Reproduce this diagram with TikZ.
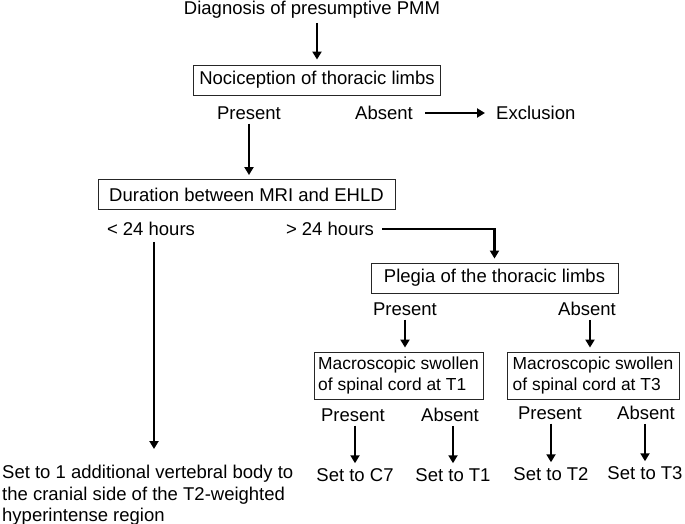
\documentclass[tikz,border=0pt]{standalone}
\usepackage{fontspec}
\setmainfont{Liberation Sans}
\usetikzlibrary{arrows.meta,positioning}

\begin{document}
\begin{tikzpicture}[
  x=1pt, y=-1pt,
  font=\fontsize{18.5}{22}\selectfont,
  box/.style={draw=black!85, line width=0.9pt, inner sep=3pt, minimum height=30pt},
  twobox/.style={box, align=left, inner sep=2pt,
    font=\fontsize{17.4}{20.5}\selectfont},
  lbl/.style={inner sep=1pt},
  arr/.style={-{Triangle[length=8pt,width=9pt]}, line width=2.5pt,
    shorten <=3pt, shorten >=4pt},
]
\useasboundingbox (0,0) rectangle (685,524);

\node[lbl] (diag) at (312,10) {Diagnosis of presumptive PMM};
\node[box, minimum width=247pt] (noci) at (317,80) {Nociception of thoracic limbs};
\node[lbl] (npres) at (249,113) {Present};
\node[lbl] (nabs) at (384,113) {Absent};
\node[lbl, anchor=west] (excl) at (495,113) {Exclusion};

\node[box, minimum width=297pt] (dur) at (246.5,194.5) {Duration between MRI and EHLD};
\node[lbl] (short) at (151,229) {< 24 hours};
\node[lbl] (long) at (330,229) {> 24 hours};
\coordinate (stop) at (154,449);

\node[box, minimum width=247pt] (pleg) at (494.5,278) {Plegia of the thoracic limbs};
\node[lbl] (ppres) at (405,309) {Present};
\node[lbl] (pabs) at (587,309) {Absent};

\node[twobox, minimum width=169pt, minimum height=47pt] (mac1) at (398.5,375.5)
  {Macroscopic swollen\\of spinal cord at T1};
\node[twobox, minimum width=172pt, minimum height=47pt] (mac3) at (593,375.5)
  {Macroscopic swollen\\of spinal cord at T3};

\node[lbl] (m1pres) at (353,415) {Present};
\node[lbl] (m1abs) at (450,415) {Absent};
\node[lbl] (m3pres) at (550,413) {Present};
\node[lbl] (m3abs) at (646,413) {Absent};

\node[lbl] (c7) at (355,475) {Set to C7};
\node[lbl] (t1) at (453,475) {Set to T1};
\node[lbl] (t2) at (551,474) {Set to T2};
\node[lbl] (t3) at (645,473) {Set to T3};

\node[lbl, anchor=north west, align=left, font=\fontsize{18.5}{21.5}\selectfont] (extra) at (1,464)
  {Set to 1 additional vertebral body to\\the cranial side of the T2-weighted\\hyperintense region};

% arrows
\draw[arr, shorten >=5pt] (diag.south -| noci.north) -- (noci.north);
\draw[arr, shorten <=11pt, shorten >=10pt] (nabs.east) -- (excl.west);
\draw[arr] (npres.south) -- (npres.south |- dur.north);
\draw[arr, shorten <=7pt] (long.east) -| (pleg.north);
\draw[arr, shorten <=5pt, shorten >=0pt] (short.south -| stop) -- (stop);
\draw[arr] (ppres.south) -- (ppres.south |- mac1.north);
\draw[arr] ([xshift=3pt]pabs.south) -- ([xshift=3pt]pabs.south |- mac3.north);
\draw[arr] (m1pres.south -| c7.north) -- (c7.north);
\draw[arr] (m1abs.south -| t1.north) -- (t1.north);
\draw[arr] (m3pres.south -| t2.north) -- (t2.north);
\draw[arr] (m3abs.south -| t3.north) -- (t3.north);
\end{tikzpicture}
\end{document}
